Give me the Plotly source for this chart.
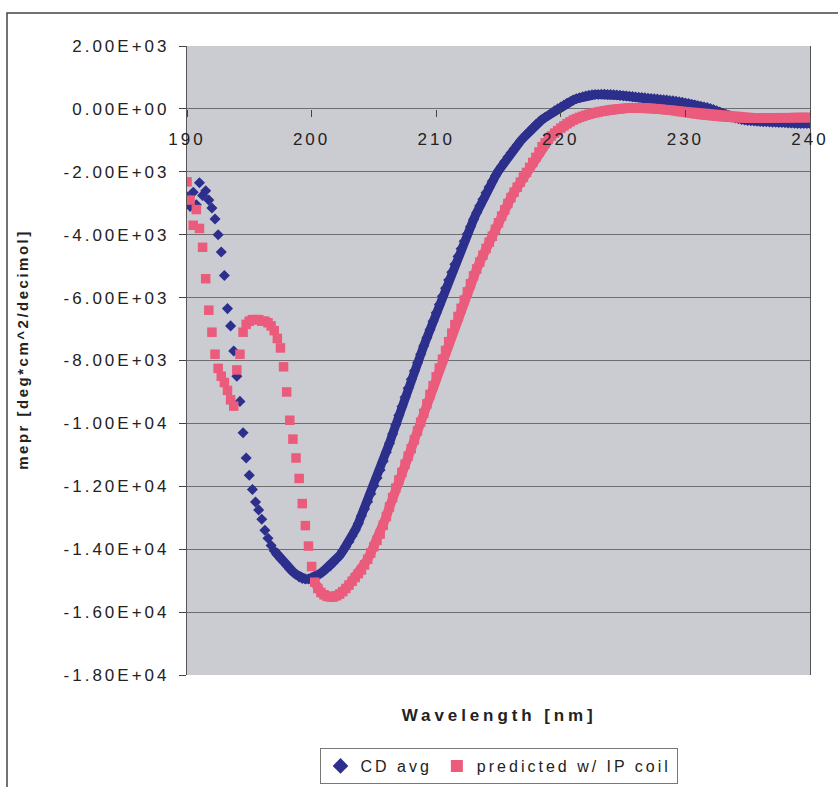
import plotly.graph_objects as go

# ---------------- data ----------------
wavelength = [round(190 + 0.25 * i, 2) for i in range(201)]  # 190.00 ... 240.00 nm

cd_avg = [
    -2800, -3100, -2650, -3050,    # 190
    -2350, -2750, -2600, -2900,    # 191
    -3150, -3500, -4000, -4550,    # 192
    -5300, -6350, -6900, -7700,    # 193
    -8500, -9300, -10300, -11100,  # 194
    -11650, -12100, -12500, -12750,  # 195
    -13050, -13400, -13650, -13880,  # 196
    -14050, -14180, -14300, -14400,  # 197
    -14520, -14640, -14720, -14800,  # 198
    -14880, -14930, -14950, -14950,  # 199
    -14920, -14880, -14840, -14760,  # 200
    -14680, -14600, -14530, -14430,  # 201
    -14320, -14200, -14060, -13920,  # 202
    -13760, -13580, -13390, -13180,  # 203
    -12940, -12720, -12490, -12240,  # 204
    -11980, -11740, -11480, -11200,  # 205
    -10920, -10630, -10340, -10040,  # 206
    -9740, -9460, -9170, -8880,    # 207
    -8600, -8330, -8070, -7800,    # 208
    -7540, -7280, -7020, -6750,    # 209
    -6480, -6220, -5960, -5700,    # 210
    -5440, -5190, -4940, -4690,    # 211
    -4450, -4210, -3980, -3750,    # 212
    -3520, -3300, -3080, -2870,    # 213
    -2670, -2480, -2300, -2130,    # 214
    -1970, -1820, -1670, -1530,    # 215
    -1400, -1270, -1150, -1030,    # 216
    -920, -810, -700, -600,        # 217
    -500, -420, -340, -270,        # 218
    -200, -130, -60, 0,            # 219
    60, 120, 180, 230,             # 220
    280, 320, 355, 385,            # 221
    410, 430, 445, 455,            # 222
    460, 465, 465, 460,            # 223
    455, 450, 440, 430,            # 224
    420, 410, 400, 390,            # 225
    380, 370, 360, 350,            # 226
    340, 330, 320, 310,            # 227
    300, 290, 280, 270,            # 228
    260, 245, 230, 210,            # 229
    190, 170, 150, 125,            # 230
    100, 80, 60, 40,               # 231
    10, -20, -60, -100,            # 232
    -140, -180, -220, -260,        # 233
    -290, -315, -335, -350,        # 234
    -365, -375, -385, -395,        # 235
    -400, -405, -410, -415,        # 236
    -420, -425, -430, -435,        # 237
    -440, -445, -450, -455,        # 238
    -460, -460, -465, -465,        # 239
    -465,                          # 240
]

predicted_ip_coil = [
    -2320, -2900, -3700, -3200,    # 190
    -3800, -4400, -5400, -6400,    # 191
    -7100, -7800, -8250, -8500,    # 192
    -8700, -8950, -9250, -9450,    # 193
    -8300, -7800, -7100, -6850,    # 194
    -6750, -6700, -6700, -6700,    # 195
    -6750, -6750, -6800, -6900,    # 196
    -7050, -7300, -7600, -8200,    # 197
    -9000, -9900, -10500, -11100,  # 198
    -11750, -12550, -13250, -13900,  # 199
    -14550, -15050, -15250, -15380,  # 200
    -15450, -15500, -15520, -15520,  # 201
    -15480, -15430, -15350, -15250,  # 202
    -15140, -15020, -14900, -14780,  # 203
    -14660, -14500, -14320, -14120,  # 204
    -13920, -13720, -13520, -13240,  # 205
    -12960, -12660, -12360, -12060,  # 206
    -11800, -11560, -11300, -11040,  # 207
    -10800, -10520, -10240, -9960,   # 208
    -9680, -9380, -9080, -8800,    # 209
    -8520, -8240, -7960, -7680,    # 210
    -7400, -7130, -6860, -6600,    # 211
    -6340, -6080, -5820, -5560,    # 212
    -5310, -5090, -4870, -4650,    # 213
    -4440, -4240, -4050, -3830,    # 214
    -3620, -3410, -3210, -3010,    # 215
    -2820, -2650, -2490, -2330,    # 216
    -2170, -2020, -1860, -1700,    # 217
    -1540, -1370, -1200, -1080,    # 218
    -960, -860, -770, -690,        # 219
    -610, -540, -470, -410,        # 220
    -355, -310, -270, -235,        # 221
    -200, -170, -145, -120,        # 222
    -100, -80, -60, -45,           # 223
    -30, -15, -5, 5,               # 224
    15, 22, 28, 32,                # 225
    35, 35, 33, 30,                # 226
    25, 18, 10, 0,                 # 227
    -10, -20, -30, -40,            # 228
    -50, -65, -80, -95,            # 229
    -110, -125, -140, -155,        # 230
    -165, -180, -190, -200,        # 231
    -210, -220, -230, -240,        # 232
    -250, -255, -265, -270,        # 233
    -275, -280, -285, -285,        # 234
    -290, -290, -290, -290,        # 235
    -290, -290, -285, -285,        # 236
    -285, -285, -280, -280,        # 237
    -280, -280, -280, -275,        # 238
    -275, -275, -275, -275,        # 239
    -275,                          # 240
]

series_names = ["CD avg", "predicted w/ IP coil"]
y_tick_values = [2000, 0, -2000, -4000, -6000, -8000, -10000, -12000, -14000, -16000, -18000]
y_tick_labels = ["2.00E+03", "0.00E+00", "-2.00E+03", "-4.00E+03", "-6.00E+03", "-8.00E+03",
                 "-1.00E+04", "-1.20E+04", "-1.40E+04", "-1.60E+04", "-1.80E+04"]
x_tick_values = [190, 200, 210, 220, 230, 240]
x_title = "Wavelength [nm]"
y_title = "mepr [deg*cm^2/decimol]"

# where the dense (smooth) part of each recorded series starts
cd_smooth_from = 197.0
pred_smooth_from = 200.25

# ---------------- layout constants (pixels) ----------------
W, H = 838, 787
L, R, T, B = 187, 28, 46, 112
PW, PH = W - L - R, H - T - B

def px_x(p):
    return (p - L) / PW

def px_y(p):
    return (H - B - p) / PH

FONT = "Liberation Sans, Arial, sans-serif"
BLUE = "#2c2f8c"
PINK = "#ea5b7c"

def smooth_part(xs, ys, start):
    pairs = [(x, y) for x, y in zip(xs, ys) if x >= start]
    return [p[0] for p in pairs], [p[1] for p in pairs]

fig = go.Figure()
bx, by = smooth_part(wavelength, cd_avg, cd_smooth_from)
fig.add_trace(go.Scatter(x=bx, y=by, mode="lines", showlegend=False, hoverinfo="skip",
                         line=dict(color=BLUE, width=9)))
fig.add_trace(go.Scatter(
    x=wavelength, y=cd_avg, name=series_names[0], mode="markers",
    marker=dict(symbol="diamond", size=8.5, color=BLUE, line=dict(width=0)),
))
px_, py_ = smooth_part(wavelength, predicted_ip_coil, pred_smooth_from)
fig.add_trace(go.Scatter(x=px_, y=py_, mode="lines", showlegend=False, hoverinfo="skip",
                         line=dict(color=PINK, width=9.5)))
fig.add_trace(go.Scatter(
    x=wavelength, y=predicted_ip_coil, name=series_names[1], mode="markers",
    marker=dict(symbol="square", size=9.5, color=PINK, line=dict(width=0)),
))

fig.update_layout(
    width=W, height=H,
    margin=dict(l=L, r=R, t=T, b=B, pad=0, autoexpand=False),
    paper_bgcolor="white",
    plot_bgcolor="#cbccd1",
    font=dict(family=FONT, size=16, color="#222"),
    showlegend=True,
    legend=dict(
        orientation="h", x=0.5, xanchor="center", y=px_y(748), yanchor="top",
        bordercolor="#777", borderwidth=1, bgcolor="white",
        font=dict(family=FONT, size=16, color="#222"),
        itemsizing="constant", itemwidth=30, traceorder="normal",
    ),
    xaxis=dict(
        range=[190, 240], tickvals=x_tick_values, ticktext=[str(v) for v in x_tick_values],
        anchor="free", position=0.9, side="bottom",
        showgrid=False, zeroline=False, showline=False,
        ticks="outside", ticklen=7, tickcolor="#444", tickwidth=1,
        ticklabelstandoff=8,
        tickfont=dict(family=FONT, size=17, color="#222"),
    ),
    yaxis=dict(
        range=[-18000, 2000], tickvals=y_tick_values, ticktext=y_tick_labels,
        showgrid=True, gridcolor="#6e6e6e", gridwidth=1,
        zeroline=False, showline=True, linecolor="#555", linewidth=1.2, mirror=True,
        ticks="outside", ticklen=7, tickcolor="#444", tickwidth=1,
        ticklabelstandoff=6,
        tickfont=dict(family=FONT, size=17, color="#222"),
    ),
    annotations=[
        dict(text="<b>" + x_title + "</b>", xref="paper", yref="paper",
             x=0.5, y=px_y(715), xanchor="center", yanchor="middle", showarrow=False,
             font=dict(family=FONT, size=17, color="#222")),
        dict(text="<b>" + y_title + "</b>", xref="paper", yref="paper",
             x=px_x(22), y=px_y(350), xanchor="center", yanchor="middle", showarrow=False,
             textangle=-90, font=dict(family=FONT, size=15, color="#222")),
    ],
    shapes=[
        dict(type="rect", xref="paper", yref="paper", layer="above",
             x0=px_x(7), x1=px_x(W + 20), y0=px_y(H + 20), y1=px_y(13),
             line=dict(color="#444", width=1.5), fillcolor="rgba(0,0,0,0)"),
    ],
)

post = """
var s = document.createElement('style');
s.textContent = '.xtick text, .ytick text {letter-spacing: 3px;} ' +
                '.legendtext {letter-spacing: 3px;} ' +
                '.annotation-text {letter-spacing: 2.5px;} ' +
                '.annotation[data-index="0"] .annotation-text {letter-spacing: 3.9px;}';
document.head.appendChild(s);
var gd = document.getElementById('{plot_id}');
Plotly.relayout(gd, {'legend.font.size': 16.01});
"""

fig.write_html("out.html", post_script=post)
